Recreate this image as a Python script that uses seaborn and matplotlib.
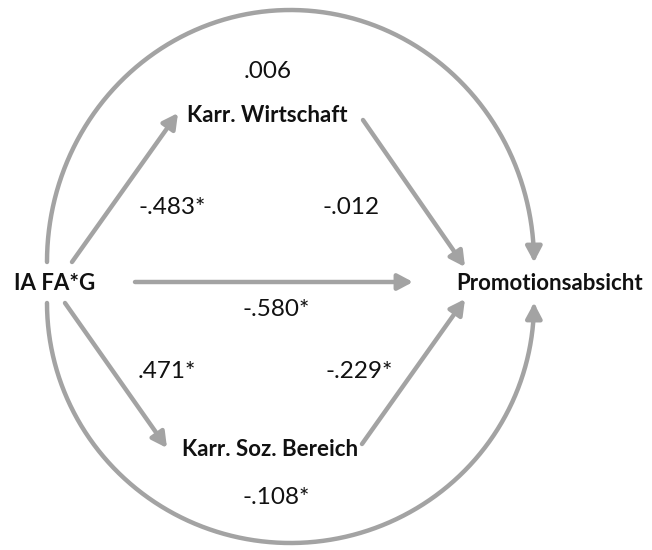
import numpy as np
import seaborn as sns
import matplotlib.pyplot as plt
from matplotlib.patches import FancyArrowPatch
from matplotlib.path import Path

sns.set_theme(style="white")
plt.rcParams['font.family'] = ['Lato', 'DejaVu Sans']

# nodes of the path model (pixel positions in the picture)
node_names = ['IA FA*G', 'Karr. Wirtschaft', 'Karr. Soz. Bereich', 'Promotionsabsicht']
node_x = [55, 267, 270, 550]
node_y = [283, 116, 450, 283]

# path coefficients and where they are written
coef_text = ['.006', '-.483*', '-.012', '-.580*', '.471*', '-.229*', '-.108*']
coef_x = [268, 172, 351, 276, 167, 359, 276]
coef_y = [72, 207, 207, 310, 372, 372, 498]

# straight paths: start and end points
line_start = [(72, 262), (363, 120), (135, 282), (65, 303), (362, 444)]
line_end = [(178, 113), (465, 267), (413, 282), (167, 448), (465, 299)]

# curved paths (half ellipses): left x, right x, base y, apex y
arc_left = [47, 47]
arc_right = [534, 534]
arc_base = [262, 303]
arc_apex = [10, 543]

grey = '#a3a3a3'
style = '-|>,head_length=0.45,head_width=0.24'

fig = plt.figure(figsize=(6.52, 5.5), dpi=100)
ax = fig.add_axes([0, 0, 1, 1])
ax.set_xlim(0, 652)
ax.set_ylim(550, 0)
ax.axis('off')

for s, e in zip(line_start, line_end):
    ax.add_patch(FancyArrowPatch(s, e, arrowstyle=style, mutation_scale=20,
                                 color=grey, lw=3.2, shrinkA=0, shrinkB=0))

for l, r, b, t in zip(arc_left, arc_right, arc_base, arc_apex):
    cx = (l + r) / 2
    a = (r - l) / 2
    h = t - b
    th = np.linspace(np.pi, 0, 200)
    verts = np.column_stack([cx + a * np.cos(th), b + h * np.sin(th)])
    ax.add_patch(FancyArrowPatch(path=Path(verts), arrowstyle=style, mutation_scale=20,
                                 color=grey, lw=3.2))

for name, x, y in zip(node_names, node_x, node_y):
    ax.text(x, y, name, ha='center', va='center', fontsize=16,
            fontweight='bold', color='#111111')

for t, x, y in zip(coef_text, coef_x, coef_y):
    ax.text(x, y, t, ha='center', va='center', fontsize=17.5, color='#111111')

fig.savefig('out.png', dpi=100)
